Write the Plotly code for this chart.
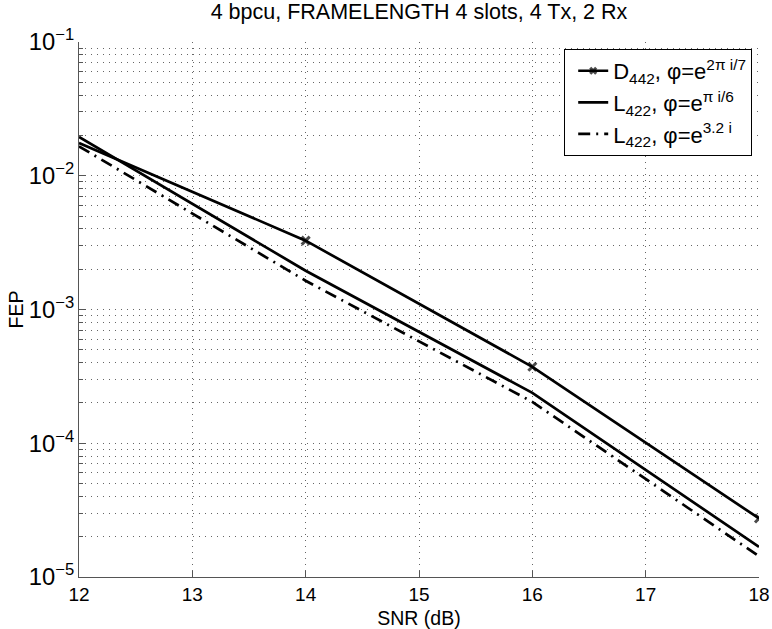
import plotly.graph_objects as go

snr = [12, 14, 16, 18]
fep_d442 = [0.0176, 3.27e-3, 3.73e-4, 2.74e-5]
fep_l422_pi6 = [0.0195, 1.95e-3, 2.38e-4, 1.68e-5]
fep_l422_32 = [0.0166, 1.64e-3, 2.04e-4, 1.43e-5]

x_ticks = [12, 13, 14, 15, 16, 17, 18]

fig = go.Figure()

fig.add_trace(
    go.Scatter(
        x=snr,
        y=fep_d442,
        mode="lines+markers",
        line=dict(color="black", width=2.7),
        marker=dict(symbol="x-thin", size=[0, 8, 8, 8], color="black",
                    line=dict(color="black", width=3)),
        name="D<sub>442</sub>, \u03c6=e<sup>2\u03c0 i/7</sup>",
    )
)
fig.add_trace(
    go.Scatter(
        x=snr,
        y=fep_l422_pi6,
        mode="lines",
        line=dict(color="black", width=2.7),
        name="L<sub>422</sub>, \u03c6=e<sup>\u03c0 i/6</sup>",
    )
)
fig.add_trace(
    go.Scatter(
        x=snr,
        y=fep_l422_32,
        mode="lines",
        line=dict(color="black", width=2.7, dash="12px,6px,2px,6px"),
        name="L<sub>422</sub>, \u03c6=e<sup>3.2 i</sup>",
    )
)

grid = dict(showgrid=True, gridcolor="#666", gridwidth=1, griddash="1px,5px")

fig.update_layout(
    width=772,
    height=629,
    margin=dict(l=79, r=13, t=42, b=52),
    plot_bgcolor="white",
    paper_bgcolor="white",
    font=dict(family="Liberation Sans, Arial, sans-serif", color="black", size=19),
    title=dict(text="4 bpcu, FRAMELENGTH 4 slots, 4 Tx, 2 Rx", xref="paper", x=0.5,
               xanchor="center", y=0.982, yanchor="middle", font=dict(size=21.5)),
    showlegend=True,
    legend=dict(
        x=0.99, y=0.987, xanchor="right", yanchor="top",
        bgcolor="white", bordercolor="black", borderwidth=1,
        font=dict(size=22), tracegroupgap=0, indentation=8,
    ),
    xaxis=dict(
        range=[12, 18],
        tickvals=x_ticks,
        ticks="inside",
        ticklen=6,
        tickcolor="#555",
        showline=True,
        linecolor="#555",
        zeroline=False,
        automargin=False,
        tickfont=dict(size=19),
        title=dict(text="SNR (dB)", standoff=7, font=dict(size=19.5)),
        **grid,
    ),
    yaxis=dict(
        type="log",
        range=[-5, -1],
        dtick=1,
        exponentformat="power",
        ticks="inside",
        ticklen=7,
        tickcolor="#555",
        showline=True,
        linecolor="#555",
        zeroline=False,
        automargin=False,
        tickfont=dict(size=19),
        title=dict(text="FEP", standoff=0, font=dict(size=19.5)),
        minor=dict(dtick="D1", showgrid=True, gridcolor="#666", griddash="1px,5px",
                   ticks="inside", ticklen=4, tickcolor="#555"),
        **grid,
    ),
)

# drop the browser's default 8px body margin so the figure sits at the page corner
fig.write_html("out.html", config={"displayModeBar": False},
               post_script="document.body.style.margin='0';")
